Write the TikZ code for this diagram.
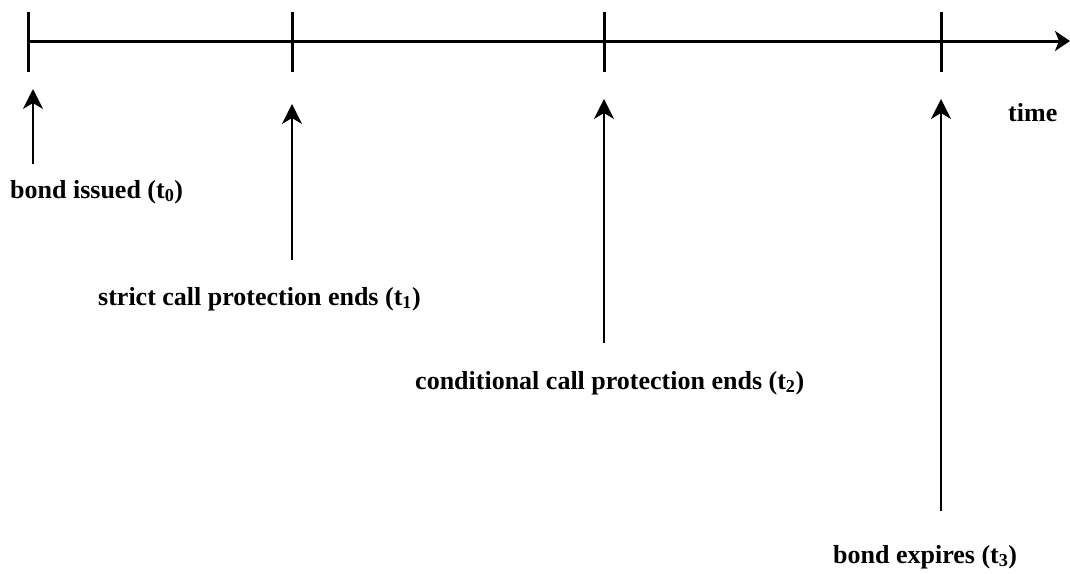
\documentclass[tikz,border=0pt]{standalone}
\usepackage{fontspec}
\setmainfont{Liberation Serif}
\usetikzlibrary{arrows.meta}
\begin{document}
\begin{tikzpicture}[x=1pt,y=-1pt,
  axis/.style={line width=3pt},
  tick/.style={line width=3pt},
  ptr/.style={line width=1.6pt,-{Stealth[length=20pt,width=20pt,inset=6pt]}},
  lbl/.style={font=\fontsize{26}{29}\selectfont\bfseries,inner sep=0pt,anchor=base west}]
\useasboundingbox (0,0) rectangle (1070,573);
\coordinate (a0) at (28,41);
\coordinate (aend) at (1070,41);
\draw[axis,-{Stealth[length=15pt,width=20pt,inset=4pt]}] (a0) -- (aend);
\foreach \x/\n in {28/k0,292/k1,604/k2,941/k3}{
  \coordinate (\n t) at (\x,12);
  \coordinate (\n b) at (\x,72);
  \draw[tick] (\n t) -- (\n b);
}
\coordinate (p0s) at (33,164);
\coordinate (p0e) at (33,89);
\coordinate (p1s) at (292,260);
\coordinate (p1e) at (292,104);
\coordinate (p2s) at (604,343);
\coordinate (p2e) at (604,99);
\coordinate (p3s) at (941,511);
\coordinate (p3e) at (941,99);
\draw[ptr] (p0s) -- (p0e);
\draw[ptr] (p1s) -- (p1e);
\draw[ptr] (p2s) -- (p2e);
\draw[ptr] (p3s) -- (p3e);
\node[lbl] (time) at (1008,121) {time};
\node[lbl] (l0) at (10,198) {bond issued (t\textsubscript{0})};
\node[lbl] (l1) at (98,305) {strict call protection ends (t\textsubscript{1})};
\node[lbl] (l2) at (415,389) {conditional call protection ends (t\textsubscript{2})};
\node[lbl] (l3) at (833,563) {bond expires (t\textsubscript{3})};
\end{tikzpicture}
\end{document}
